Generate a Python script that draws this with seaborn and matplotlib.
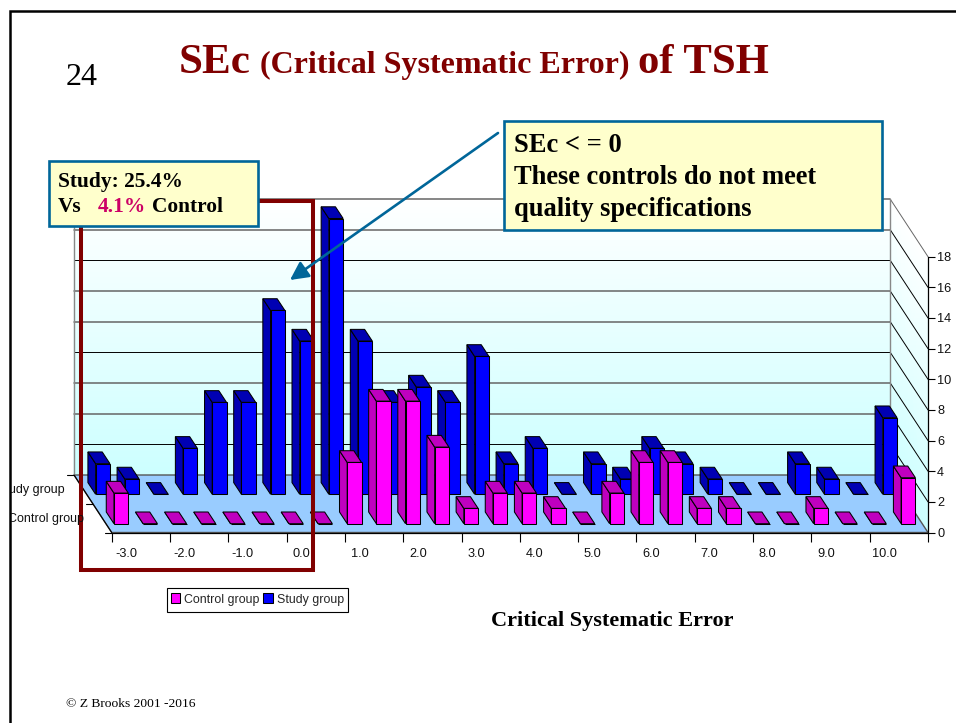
import numpy as np
import pandas as pd
import seaborn as sns
import matplotlib
matplotlib.use("Agg")
import matplotlib.pyplot as plt
from matplotlib.colors import LinearSegmentedColormap
from matplotlib.patches import Polygon, Rectangle, FancyArrowPatch

sec_labels = ["-3.0", "-2.5", "-2.0", "-1.5", "-1.0", "-0.5", "0.0", "0.5", "1.0", "1.5",
              "2.0", "2.5", "3.0", "3.5", "4.0", "4.5", "5.0", "5.5", "6.0", "6.5",
              "7.0", "7.5", "8.0", "8.5", "9.0", "9.5", "10.0", "10.5"]
control_group = [2, 0, 0, 0, 0, 0, 0, 0, 4, 8, 8, 5, 1, 2, 2, 1, 0, 2, 4, 4, 1, 1, 0, 0, 1, 0, 0, 3]
study_group = [2, 1, 0, 3, 6, 6, 12, 10, 18, 10, 6, 7, 6, 9, 2, 3, 0, 2, 1, 3, 2, 1, 0, 0, 2, 1, 0, 5]
value_ticks = list(range(0, 20, 2))

W, H = 956, 723
sns.set_theme(style="white")
plt.rcParams["font.family"] = ["Liberation Sans", "DejaVu Sans"]
SERIF = "Liberation Serif"
fig = plt.figure(figsize=(W / 100, H / 100), dpi=100, facecolor="white")


def P(x, y):
    return x / W, 1 - y / H


# front plane of the 3-D box: 28 half-unit slots along x, 0-18 along y
L, R, B, T = 111.7, 928.0, 532.5, 256.7
rect = [L / W, 1 - B / H, (R - L) / W, (B - T) / H]
wall = fig.add_axes(rect, zorder=0)
wall.axis("off")
wall.set_xlim(-0.5, 27.5)
wall.set_ylim(0, 18)
ax = fig.add_axes(rect, zorder=1)
ax.patch.set_alpha(0)
df = pd.DataFrame({
    "sec": sec_labels * 2,
    "count": control_group + study_group,
    "group": ["Control group"] * 28 + ["Study group"] * 28,
})
sns.barplot(data=df, x="sec", y="count", hue="group", order=sec_labels,
            hue_order=["Control group", "Study group"],
            palette={"Control group": "#FF00FF", "Study group": "#0000FF"},
            saturation=1, dodge=False, width=14.3 / 29.15, edgecolor="black", linewidth=0.75, ax=ax)
ax.set_xlim(-0.5, 27.5)
ax.set_ylim(0, 18)
ppx = (R - L) / 28
ppy = (B - T) / 18


def dx(px):
    return px / ppx


def dy(px):
    return px / ppy


Dx, Dy = dx(-37.7), dy(57.5)
x0, x1 = -0.5, 27.5
cmap = LinearSegmentedColormap.from_list("wall", ["#CCFFFF", "#CCFFFF", "#FFFFFF"], N=256)
kw = dict(shading="gouraud", cmap=cmap, vmin=0, vmax=1, zorder=0.5, clip_on=False)
wall.pcolormesh(np.array([[x0 + Dx, x1 + Dx], [x0 + Dx, x1 + Dx]]),
                np.array([[Dy, Dy], [18 + Dy, 18 + Dy]]),
                np.array([[0.0, 0.0], [1.0, 1.0]]), **kw)
wall.pcolormesh(np.array([[x1 + Dx, x1], [x1 + Dx, x1]]),
                np.array([[Dy, 0], [18 + Dy, 18]]),
                np.array([[0.0, 0.0], [1.0, 1.0]]), **kw)
wall.add_patch(Polygon([(x0 + Dx, Dy), (x1 + Dx, Dy), (x1, 0), (x0, 0)], closed=True,
                       facecolor="#99CCFF", edgecolor="#555555", lw=1.0, zorder=0.8, clip_on=False))

# gridlines on the back and side walls
for v in value_ticks:
    strong = v in (2, 8, 14)
    col, lw = ("black", 0.7) if strong else ("#666666", 1.1)
    if v > 0:
        wall.plot([x0 + Dx, x1 + Dx], [v + Dy, v + Dy], color=col, lw=lw, zorder=0.9, clip_on=False)
        wall.plot([x1 + Dx, x1], [v + Dy, v], color="black" if v < 18 else "#666666",
                  lw=0.7, zorder=0.9, clip_on=False)
for xx in (x0 + Dx, x1 + Dx):
    wall.plot([xx, xx], [Dy, 18 + Dy], color="#888888", lw=1.0, zorder=0.9, clip_on=False)
wall.plot([x0 + Dx, x0], [Dy, 0], color="black", lw=0.8, zorder=1, clip_on=False)
for frac in (1.0, 0.5, 0.0):
    xs, ys = x0 + Dx * frac, Dy * frac
    wall.plot([xs - dx(7), xs], [ys, ys], color="black", lw=0.8, zorder=1, clip_on=False)
wall.set_xlim(-0.5, 27.5)
wall.set_ylim(0, 18)

# turn the flat seaborn bars into oblique boxes
bar_dx, bar_dy = dx(-7.7), dy(11.7)
layout = {0: (dx(-5.15), dy(8.8), "#BF00BF", 3), 1: (dx(-23.5), dy(38.2), "#0000B3", 2)}
for idx, cont in enumerate(ax.containers[:2]):
    sx, sy, dark, z = layout[idx]
    for p in cont.patches:
        p.set_x(p.get_x() + sx)
        p.set_y(p.get_y() + sy)
        p.set_zorder(z + 0.2)
        p.set_clip_on(False)
        x, y, w, h = p.get_x(), p.get_y(), p.get_width(), p.get_height()
        top = y + h
        for pts in ([(x, y), (x + bar_dx, y + bar_dy), (x + bar_dx, top + bar_dy), (x, top)],
                    [(x, top), (x + w, top), (x + w + bar_dx, top + bar_dy), (x + bar_dx, top + bar_dy)]):
            ax.add_patch(Polygon(pts, closed=True, facecolor=dark, edgecolor="black",
                                 lw=0.75, zorder=z, clip_on=False))

# axes
ax.set_xlabel("")
ax.set_ylabel("")
ax.set_xticks(range(0, 28, 2), sec_labels[::2])
ax.set_xticks(np.arange(-0.5, 28, 2), minor=True)
ax.set_yticks(value_ticks)
ax.yaxis.tick_right()
ax.tick_params(axis="y", which="major", length=5, width=0.8, color="black", labelsize=9.2, pad=1.5,
               labelcolor="#111111", left=False, right=True)
ax.tick_params(axis="x", which="major", length=0, labelsize=9.2, pad=11.5, labelcolor="#111111")
ax.tick_params(axis="x", which="minor", length=6.2, width=0.8, color="black", bottom=True)
for s in ("top", "left"):
    ax.spines[s].set_visible(False)
for s in ("bottom", "right"):
    ax.spines[s].set_color("black")
    ax.spines[s].set_linewidth(0.9)
    ax.spines[s].set_zorder(1.5)

# legend
handles, labels = ax.get_legend_handles_labels()
ax.get_legend().remove()
fig.legend(handles, labels, ncol=2, loc="center", bbox_to_anchor=P(257.3, 599.5), fontsize=8.9,
           frameon=False, borderpad=0, handlelength=0.8, handleheight=0.8, handletextpad=0.3,
           columnspacing=0.3, borderaxespad=0)

# overlay in figure pixels
ov = fig.add_axes([0, 0, 1, 1], zorder=5)
ov.set_xlim(0, W)
ov.set_ylim(H, 0)
ov.axis("off")
ov.patch.set_alpha(0)
ov.add_patch(Rectangle((166.7, 587.5), 181.3, 24, fill=False, edgecolor="black", lw=0.8, zorder=1))

clip = Rectangle((11, 0), W, H, transform=ov.transData)
for txt, xr, yc in (("Study group", 65, 490), ("Control group", 84, 519)):
    t = ov.text(xr, yc, txt, ha="right", va="center", fontsize=9, color="#111111", clip_on=True)
    t.set_clip_path(clip)

ov.plot([10.5, 10.5, W], [H, 10.5, 10.5], color="black", lw=1.8, solid_joinstyle="miter", zorder=1)
ov.add_patch(Rectangle((81.3, 201), 231.7, 368.7, fill=False, edgecolor="#800000", lw=2.9, zorder=2))
ov.add_patch(FancyArrowPatch((498, 133), (290, 280), arrowstyle="-|>,head_length=5.5,head_width=2.8",
                             color="#006699", lw=1.9, mutation_scale=2.0, shrinkA=0, shrinkB=0, zorder=3))
ov.add_patch(Rectangle((48.6, 161.2), 209.2, 65, facecolor="#FFFFCC", edgecolor="#006699", lw=1.9, zorder=4))
ov.add_patch(Rectangle((504.5, 121.4), 377.2, 109, facecolor="#FFFFCC", edgecolor="#006699", lw=1.9, zorder=4))


def serif(x, y, s, size, color="black", weight="bold"):
    return ov.text(x, y, s, family=SERIF, fontsize=size, color=color, fontweight=weight,
                   ha="left", va="baseline", zorder=6)


serif(58, 187, "Study: 25.4%", 15.4)
serif(58, 212, "Vs", 15.4)
serif(97.5, 212, "4.1%", 15.4, color="#CC0066")
serif(152, 212, "Control", 15.4)
serif(514.5, 152, "SEc < = 0", 19.1)
serif(514.5, 184, "These controls do not meet", 19.1)
serif(514.5, 216, "quality specifications", 19.1)

serif(66, 85, "24", 23, weight="normal")
serif(178.5, 73, "SEc", 31, color="#800000")
serif(260.5, 73, "(Critical Systematic Error)", 23, color="#800000")
serif(638, 73, "of TSH", 30.7, color="#800000")
serif(491, 626, "Critical Systematic Error", 16)
serif(66, 707, "© Z Brooks 2001 -2016", 9.7, weight="normal")

fig.savefig("out.png", dpi=100)
